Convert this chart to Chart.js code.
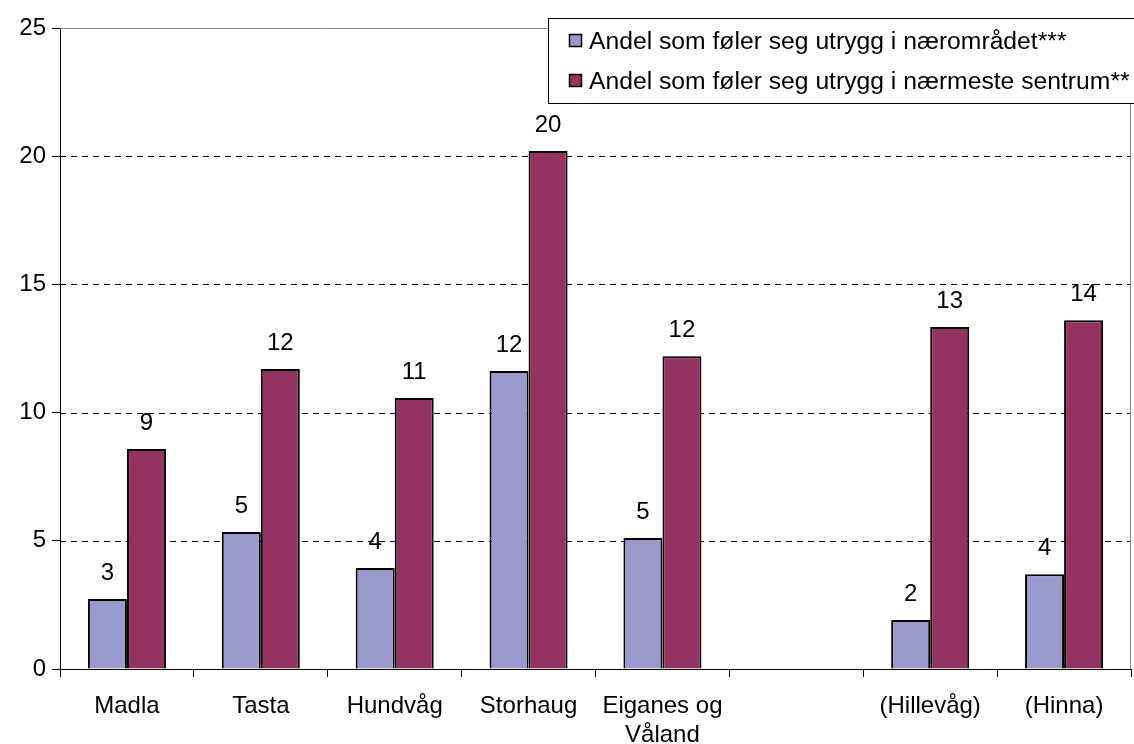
<!DOCTYPE html>
<html>
<head>
<meta charset="utf-8">
<script src="https://cdn.jsdelivr.net/npm/chart.js@4.4.1/dist/chart.umd.min.js"></script>
<style>
html,body{margin:0;padding:0;background:#fff;}
#wrap{width:1134px;height:744px;position:relative;}
</style>
</head>
<body>
<div id="wrap"><canvas id="c" width="1134" height="744"></canvas></div>
<script>
const categories = ['Madla', 'Tasta', 'Hundvåg', 'Storhaug', ['Eiganes og', 'Våland'], '', '(Hillevåg)', '(Hinna)'];
const seriesNames = ['Andel som føler seg utrygg i nærområdet***', 'Andel som føler seg utrygg i nærmeste sentrum**'];
const naerområdet = [2.73, 5.34, 3.94, 11.62, 5.11, null, 1.91, 3.7];
const sentrum = [8.58, 11.7, 10.57, 20.2, 12.2, null, 13.34, 13.6];
const yTicks = [0, 5, 10, 15, 20, 25];

const FONT = '"Liberation Sans", Arial, sans-serif';
const FS = 24;
const colors = ['#9999cc', '#943360'];

const gridPlugin = {
  id: 'gridPlugin',
  beforeDatasetsDraw(chart) {
    const {ctx, chartArea: a, scales: {y}} = chart;
    ctx.save();
    ctx.lineWidth = 1;
    ctx.strokeStyle = '#000';
    ctx.setLineDash([6, 5]);
    yTicks.forEach(v => {
      if (v === 0 || v === 25) return;
      const py = Math.round(y.getPixelForValue(v)) + 0.5;
      ctx.beginPath(); ctx.moveTo(a.left, py); ctx.lineTo(a.right, py); ctx.stroke();
    });
    ctx.setLineDash([]);
    ctx.strokeStyle = '#888';
    const top = Math.round(y.getPixelForValue(25)) + 0.5;
    ctx.beginPath(); ctx.moveTo(a.left, top); ctx.lineTo(a.right, top); ctx.stroke();
    ctx.beginPath(); ctx.moveTo(Math.round(a.right) - 0.5, top); ctx.lineTo(Math.round(a.right) - 0.5, a.bottom); ctx.stroke();
    ctx.restore();
  }
};

const labelPlugin = {
  id: 'labelPlugin',
  afterDatasetsDraw(chart) {
    const {ctx} = chart;
    ctx.save();
    ctx.font = FS + 'px ' + FONT;
    ctx.fillStyle = '#000';
    ctx.textAlign = 'center';
    ctx.textBaseline = 'middle';
    chart.data.datasets.forEach((ds, i) => {
      const meta = chart.getDatasetMeta(i);
      meta.data.forEach((bar, j) => {
        const v = ds.data[j];
        if (v === null || v === undefined) return;
        ctx.fillText(String(Math.round(v)), bar.x, bar.y - 26);
      });
    });
    ctx.restore();
  }
};

const legendPlugin = {
  id: 'legendPlugin',
  afterDraw(chart) {
    const {ctx} = chart;
    ctx.save();
    const bx = 548.5, by = 18.5, bw = 620, bh = 85;
    ctx.fillStyle = '#fff';
    ctx.fillRect(bx, by, bw, bh);
    ctx.strokeStyle = '#000';
    ctx.lineWidth = 1;
    ctx.strokeRect(bx, by, bw, bh);
    ctx.font = '24.7px ' + FONT;
    ctx.textBaseline = 'middle';
    ctx.textAlign = 'left';
    const rows = [41, 81];
    chart.data.datasets.forEach((ds, i) => {
      const cy = rows[i];
      ctx.fillStyle = ds.backgroundColor;
      ctx.fillRect(569.5, cy - 6.5, 12, 12);
      ctx.strokeStyle = '#000';
      ctx.lineWidth = 1.5;
      ctx.strokeRect(569.5, cy - 6.5, 12, 12);
      ctx.fillStyle = '#000';
      ctx.fillText(ds.label, 589, cy + 1);
    });
    ctx.restore();
  }
};

new Chart(document.getElementById('c'), {
  type: 'bar',
  data: {
    labels: categories,
    datasets: [
      {label: seriesNames[0], data: naerområdet, backgroundColor: colors[0], borderColor: '#000', borderWidth: 2},
      {label: seriesNames[1], data: sentrum, backgroundColor: colors[1], borderColor: '#000', borderWidth: 2}
    ]
  },
  options: {
    responsive: false,
    animation: false,
    layout: {padding: {top: 28, right: 3, left: 0, bottom: 0}},
    plugins: {legend: {display: false}, tooltip: {enabled: false}},
    datasets: {bar: {categoryPercentage: 0.583, barPercentage: 1.0}},
    scales: {
      x: {
        grid: {display: true, drawOnChartArea: false, drawTicks: true, tickLength: 8, color: '#000', offset: true},
        border: {display: true, color: '#000', width: 1},
        ticks: {font: {family: FONT, size: FS}, color: '#000', padding: 15, maxRotation: 0, autoSkip: false},
        afterFit: s => { s.height = 75; }
      },
      y: {
        min: 0, max: 25,
        afterBuildTicks: s => { s.ticks = yTicks.map(v => ({value: v})); },
        grid: {display: true, drawOnChartArea: false, drawTicks: true, tickLength: 8, color: '#000'},
        border: {display: true, color: '#000', width: 1},
        ticks: {font: {family: FONT, size: FS}, color: '#000', padding: 6},
        afterFit: s => { s.width = 60; }
      }
    }
  },
  plugins: [gridPlugin, labelPlugin, legendPlugin]
});
</script>
</body>
</html>
